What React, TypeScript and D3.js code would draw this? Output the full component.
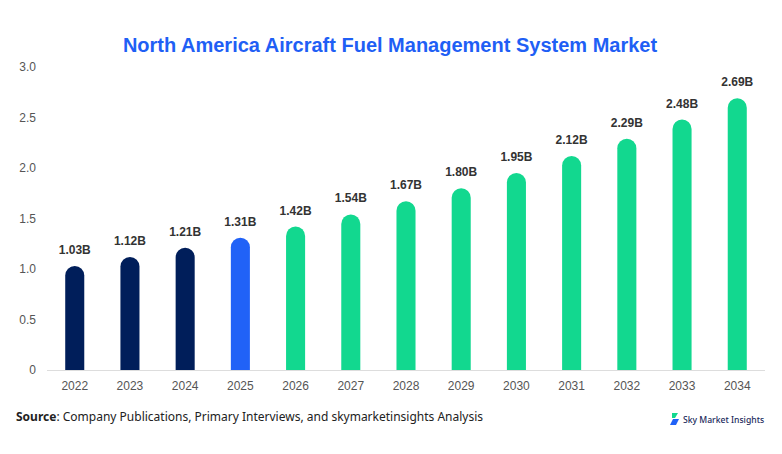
import * as d3 from 'd3';

const years = ['2022', '2023', '2024', '2025', '2026', '2027', '2028', '2029', '2030', '2031', '2032', '2033', '2034'];
const values = [1.03, 1.12, 1.21, 1.31, 1.42, 1.54, 1.67, 1.8, 1.95, 2.12, 2.29, 2.48, 2.69];
const yTicks = [0, 0.5, 1.0, 1.5, 2.0, 2.5, 3.0];

const width = 782;
const height = 454;
const margins = { top: 67, right: 17, bottom: 84, left: 47 };

const barColor = (year: string) => {
  const y = +year;
  if (y < 2025) return '#001e5a';
  if (y === 2025) return '#2162f7';
  return '#12d88f';
};

const App = () => {
  const xScale = d3
    .scaleBand()
    .domain(years)
    .range([margins.left, width - margins.right])
    .paddingInner(0.655)
    .paddingOuter(0.33);
  const yScale = d3
    .scaleLinear()
    .domain([0, 3])
    .range([height - margins.bottom, margins.top]);

  const bw = xScale.bandwidth();
  const r = bw / 2;
  const base = yScale(0);

  return (
    <svg width={width} height={height} style={{ position: 'absolute', left: 0, top: 0, fontFamily: '"Liberation Sans", Arial, sans-serif' }}>
      <rect width={width} height={height} fill="#fff" />
      <text x={390} y={52} textAnchor="middle" fill="#1f5ff5" fontSize={20} fontWeight="bold">
        North America Aircraft Fuel Management System Market
      </text>

      {yTicks.map(t => (
        <text key={t} x={36} y={yScale(t)} dy="0.35em" textAnchor="end" fill="#555" fontSize={12}>
          {t === 0 ? '0' : t.toFixed(1)}
        </text>
      ))}

      <line x1={margins.left} x2={width - margins.right} y1={base + 0.5} y2={base + 0.5} stroke="#ddd" />

      {years.map((yr, i) => {
        const x = xScale(yr) || 0;
        const top = yScale(values[i]);
        const path = `M${x},${base} L${x},${top + r} A${r},${r} 0 0 1 ${x + bw},${top + r} L${x + bw},${base} Z`;
        return (
          <g key={yr}>
            <path d={path} fill={barColor(yr)} />
            <text x={x + r} y={top - 12} textAnchor="middle" fill="#333" fontSize={12} fontWeight="bold">
              {values[i].toFixed(2)}B
            </text>
            <text x={x + r} y={base + 20} textAnchor="middle" fill="#555" fontSize={12}>
              {yr}
            </text>
          </g>
        );
      })}

      <text x={16} y={421} fill="#222" fontSize={12} fontFamily='"Noto Sans", sans-serif'>
        <tspan fontWeight="bold">Source</tspan>: Company Publications, Primary Interviews, and skymarketinsights Analysis
      </text>

      <g transform="translate(669,413)">
        <path d="M3,0 L9,0 L6,5 L3,5 Z" fill="#12d88f" />
        <path d="M4,6 L10,6 L7,12 L1,12 Z" fill="#2162f7" />
        <text x={14} y={10} fill="#1b2a5c" fontSize={8.6} fontWeight="500" fontFamily='"Noto Sans", sans-serif'>
          Sky Market Insights
        </text>
      </g>
    </svg>
  );
};

export default App;
